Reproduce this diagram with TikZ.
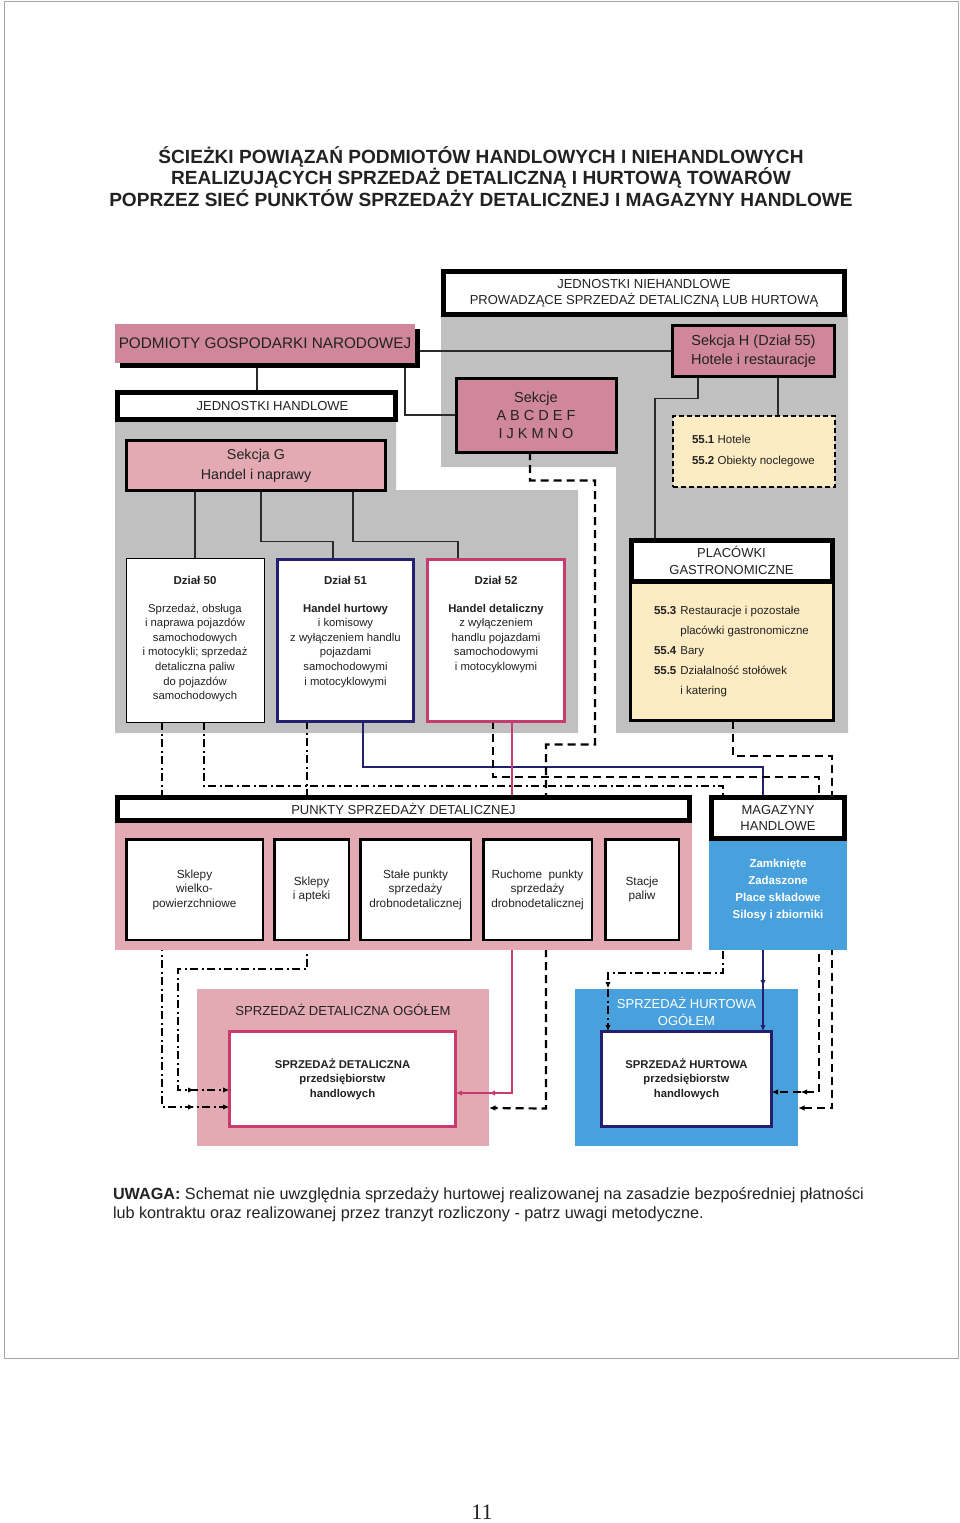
\documentclass[tikz,border=0pt]{standalone}
\usepackage{fontspec}
\setmainfont{Liberation Sans}
\newfontfamily\serifnum{Liberation Serif}
\usetikzlibrary{calc,decorations.markings,arrows.meta,shadows}
\definecolor{pinkD}{HTML}{D0869B}
\definecolor{pinkL}{HTML}{E4AAB3}
\definecolor{grayR}{HTML}{C0C0C0}
\definecolor{yelw}{HTML}{FCEBC3}
\definecolor{blueM}{HTML}{48A1DC}
\definecolor{navyL}{HTML}{241F6E}
\definecolor{magL}{HTML}{C93A6E}
\definecolor{txtc}{HTML}{222222}
\definecolor{lnc}{HTML}{2A2A2A}
\newcommand\fsz[2]{\fontsize{#1}{#2}\selectfont}
\pgfdeclarelayer{bgl}
\pgfdeclarelayer{lnl}
\pgfsetlayers{bgl,lnl,main}
\begin{document}
\begin{tikzpicture}[x=1pt,y=-1pt,
  every node/.style={inner sep=0pt,outer sep=0pt,text=txtc,align=center},
  hdr/.style={draw=black,line width=5pt,fill=white},
  sek/.style={draw=black,line width=3pt},
  thinln/.style={draw=lnc,line width=1.1pt},
  dd/.style={draw=black,line width=2pt,dash pattern=on 8pt off 3.5pt on 2pt off 3.5pt},
  dsh/.style={draw=black,line width=2.2pt,dash pattern=on 8pt off 5pt},
  arr/.style={-{Latex[length=6.5pt,width=5.5pt]}},
  midarr/.style={postaction={decorate},decoration={markings,mark=at position -#1 with {\arrow{Latex[length=6.5pt,width=5.5pt]}}}},
  smallbox/.style={draw=black,line width=2.5pt,fill=white,minimum height=100.5pt,font=\fsz{11.8}{14.5}},
  dzbody/.style={anchor=north,font=\fsz{11.3}{14.6}},
  dztitle/.style={font=\fsz{11.5}{14}\bfseries},
]
\useasboundingbox (0,0) rectangle (960,1523);
\draw[gray!70,line width=0.8pt] (4,1.5) rectangle (958,1358);

% title
\node[font=\fsz{19.1}{21.5}\bfseries] (title) at (481,176.5) {ŚCIEŻKI POWIĄZAŃ PODMIOTÓW HANDLOWYCH I NIEHANDLOWYCH\\REALIZUJĄCYCH SPRZEDAŻ DETALICZNĄ I HURTOWĄ TOWARÓW\\POPRZEZ SIEĆ PUNKTÓW SPRZEDAŻY DETALICZNEJ I MAGAZYNY HANDLOWE};

% background regions
\begin{pgfonlayer}{bgl}
\fill[grayR] (115,418) -- (396,418) -- (396,490) -- (578,490) -- (578,733) -- (115,733) -- cycle;
\fill[grayR] (441,314) -- (848,314) -- (848,733) -- (616,733) -- (616,467) -- (441,467) -- cycle;
\node[fill=pinkL,minimum width=292pt,minimum height=157pt] (sdout) at (343,1067.5) {};
\node[fill=blueM,minimum width=223pt,minimum height=157pt] (shout) at (686.5,1067.5) {};
\end{pgfonlayer}

% upper nodes
\node[hdr,minimum width=401pt,minimum height=43pt,font=\fsz{13}{16}] (jn) at (644,293) {JEDNOSTKI NIEHANDLOWE\\PROWADZĄCE SPRZEDAŻ DETALICZNĄ LUB HURTOWĄ};
\node[fill=pinkD,minimum width=300pt,minimum height=39pt,font=\fsz{15.3}{17},
  drop shadow={shadow xshift=5pt,shadow yshift=-5pt,opacity=1,fill=black}] (pgn) at (265,343.5) {PODMIOTY GOSPODARKI NARODOWEJ};
\node[sek,fill=pinkD,minimum width=162pt,minimum height=51pt,font=\fsz{14.5}{19}] (sekH) at (753.5,351) {Sekcja H (Dział 55)\\Hotele i restauracje};
\node[hdr,minimum width=278pt,minimum height=27pt,font=\fsz{13}{15}] (jh) at (256.5,406) {\hspace*{32pt}JEDNOSTKI HANDLOWE};
\node[sek,fill=pinkD,minimum width=160pt,minimum height=74pt,font=\fsz{14.5}{18}] (sekc) at (536,415) {Sekcje\\A B C D E F\\I J K M N O};
\node[sek,fill=pinkL,minimum width=259pt,minimum height=50pt,font=\fsz{14.3}{20}] (sekG) at (256,465.5) {Sekcja G\\Handel i naprawy};
\node[draw=black,line width=1.2pt,dash pattern=on 5pt off 3pt,fill=yelw,minimum width=162pt,minimum height=71pt] (yel) at (754,451.5) {};
\node[anchor=west,align=left,font=\fsz{11.5}{21}] (yeltxt) at (692,451.5) {\textbf{55.1} Hotele\\\textbf{55.2} Obiekty noclegowe};

% Dzial boxes
\node[draw=black,line width=1pt,fill=white,minimum width=138pt,minimum height=164pt] (dz50) at (195,640) {};
\node[draw=navyL,line width=3pt,fill=white,minimum width=136pt,minimum height=162pt] (dz51) at (345.5,640) {};
\node[draw=magL,line width=3pt,fill=white,minimum width=137pt,minimum height=162pt] (dz52) at (496,640) {};
\node[dztitle] (dz50t) at (195,580) {Dział 50};
\node[dztitle] (dz51t) at (345.5,580) {Dział 51};
\node[dztitle] (dz52t) at (496,580) {Dział 52};
\node[dzbody] (dz50b) at (195,604) {Sprzedaż, obsługa\\i naprawa pojazdów\\samochodowych\\i motocykli; sprzedaż\\detaliczna paliw\\do pojazdów\\samochodowych};
\node[dzbody] (dz51b) at (345.5,604) {\textbf{Handel hurtowy}\\i komisowy\\z wyłączeniem handlu\\pojazdami\\samochodowymi\\i motocyklowymi};
\node[dzbody] (dz52b) at (496,604) {\textbf{Handel detaliczny}\\z wyłączeniem\\handlu pojazdami\\samochodowymi\\i motocyklowymi};

% Placowki
\node[draw=black,line width=3pt,fill=yelw,minimum width=203pt,minimum height=139pt] (plb) at (731.5,651) {};
\node[hdr,minimum width=201pt,minimum height=41pt,font=\fsz{13}{17}] (plh) at (731.5,560.5) {PLACÓWKI\\GASTRONOMICZNE};
\node[anchor=west,align=left,font=\fsz{11.5}{20}] (pltxt) at (654,650) {\begin{tabular}{@{}l@{\hspace{4pt}}l@{}}
\textbf{55.3} & Restauracje i pozostałe\\
 & placówki gastronomiczne\\
\textbf{55.4} & Bary\\
\textbf{55.5} & Działalność stołówek\\
 & i katering\end{tabular}};

% lower nodes
\fill[pinkL] (115,820) rectangle (692,950);
\fill[blueM] (709,838) rectangle (847,950);
\node[hdr,minimum width=572pt,minimum height=23pt,font=\fsz{13}{15}] (ph) at (403.5,809) {PUNKTY SPRZEDAŻY DETALICZNEJ};
\node[hdr,minimum width=133pt,minimum height=41pt,font=\fsz{13}{16}] (mh) at (778,818) {MAGAZYNY\\HANDLOWE};
\node[font=\fsz{11.5}{17.3}\bfseries,text=white] (mgt) at (778,890) {Zamknięte\\Zadaszone\\Place składowe\\Silosy i zbiorniki};
\node[smallbox,minimum width=136.5pt] (b1) at (194.5,889.5) {Sklepy\\wielko-\\powierzchniowe};
\node[smallbox,minimum width=74.5pt] (b2) at (311.5,889.5) {Sklepy\\i apteki};
\node[smallbox,minimum width=110.5pt] (b3) at (415.5,889.5) {Stałe punkty\\sprzedaży\\drobnodetalicznej};
\node[smallbox,minimum width=108.5pt] (b4) at (537.5,889.5) {Ruchome\ \ punkty\\sprzedaży\\drobnodetalicznej};
\node[smallbox,minimum width=73.5pt] (b5) at (642,889.5) {Stacje\\paliw};

\node[font=\fsz{13.1}{15}] (sdtitle) at (343,1010) {SPRZEDAŻ DETALICZNA OGÓŁEM};
\node[font=\fsz{13}{17},text=white] (shtitle) at (686.5,1011.5) {SPRZEDAŻ HURTOWA\\OGÓŁEM};
\node[draw=magL,line width=3pt,fill=white,minimum width=226pt,minimum height=95pt,font=\fsz{11.3}{14.5}\bfseries] (sdin) at (342.5,1079) {SPRZEDAŻ DETALICZNA\\przedsiębiorstw\\handlowych};
\node[draw=navyL,line width=3pt,fill=white,minimum width=170pt,minimum height=95pt,font=\fsz{11.3}{14.5}\bfseries] (shin) at (686.5,1079) {SPRZEDAŻ HURTOWA\\przedsiębiorstw\\handlowych};

% note and page number
\node[anchor=north west,align=left,font=\fsz{16.2}{19}] (note) at (113,1188) {\textbf{UWAGA:} Schemat nie uwzględnia sprzedaży hurtowej realizowanej na zasadzie bezpośredniej płatności\\lub kontraktu oraz realizowanej przez tranzyt rozliczony - patrz uwagi metodyczne.};
\node[font=\serifnum\fsz{22}{24}] (pnum) at (482,1512) {11};

% connectors
\coordinate (a1) at ($(pgn.south)+(-8,0)$);
\coordinate (a2) at ($(pgn.south)+(140,0)$);
\coordinate (a3) at ($(sekG.south)+(5,0)$);
\coordinate (a3e) at ($(dz51.north)+(-12.5,0)$);
\coordinate (a4) at ($(sekG.south)+(97,0)$);
\coordinate (a4e) at ($(dz52.north)+(-38,0)$);
\coordinate (a5) at ($(sekH.south)+(-55.5,0)$);
\coordinate (a5e) at ($(plh.north)+(-76.5,0)$);
\coordinate (a6) at ($(sekH.south)+(24.5,0)$);

\coordinate (p1s) at ($(dz50.south)+(-33,0)$);
\coordinate (p1e) at ($(sdin.west)+(0,28)$);
\coordinate (p2s) at ($(dz50.south)+(9,0)$);
\coordinate (p2e) at ($(shin.north)+(-78.5,0)$);
\coordinate (p3s) at ($(dz51.south)+(-38.5,0)$);
\coordinate (p3e) at ($(sdin.west)+(0,11)$);
\coordinate (p4s) at ($(dz51.south)+(17.5,0)$);
\coordinate (p4e) at ($(shin.north)+(76.5,0)$);
\coordinate (p5s) at ($(dz52.south)+(16,0)$);
\coordinate (p5e) at ($(sdin.east)+(0,14)$);
\coordinate (p6s) at ($(dz52.south)+(-3,0)$);
\coordinate (p6e) at ($(shin.east)+(0,13)$);
\coordinate (p7s) at ($(sekc.south)+(-6,0)$);
\coordinate (p7e) at ($(sdout.east)+(0,40.5)$);
\coordinate (p8s) at ($(plb.south)+(1.5,0)$);
\coordinate (p8e) at ($(shout.east)+(0,40.5)$);

\begin{pgfonlayer}{lnl}
\draw[thinln] (pgn.east |- sekH.west) -- (sekH.west);
\draw[thinln] (a1) -- (a1 |- jh.north);
\draw[thinln] (a2) |- (sekc.west);
\draw[thinln] (sekG.south -| dz50.north) -- (dz50.north);
\draw[thinln] (a3) -- ++(0,51) -| (a3e);
\draw[thinln] (a4) -- ++(0,51) -| (a4e);
\draw[thinln] (a5) -- ++(0,22) -| (a5e);
\draw[thinln] (a6) -- (a6 |- yel.north);

\draw[dd,arr,midarr=35pt] (p1s) |- (p1e);
\draw[dd,arr,midarr=43pt] (p2s) -- ++(0,64) -| ++(519,187) -| (p2e);
\draw[dd,arr,midarr=35pt] (p3s) -- ++(0,248) -| ++(-129,121) -- (p3e);
\draw[draw=navyL,line width=2.5pt,arr,midarr=45pt] (p4s) -- ++(0,46) -| (p4e);
\draw[draw=magL,line width=2.5pt,arr,midarr=33pt] (p5s) |- (p5e);
\draw[dsh,arr,midarr=29pt] (p6s) -- ++(0,56) -| ++(326,315) -- (p6e);
\draw[dsh,arr] (p7s) -- ++(0,28.5) -| ++(65,264) -| ++(-49,364) -- (p7e);
\draw[dsh,arr] (p8s) -- ++(0,35.5) -| ++(99,352) -- (p8e);
\end{pgfonlayer}
\end{tikzpicture}
\end{document}
